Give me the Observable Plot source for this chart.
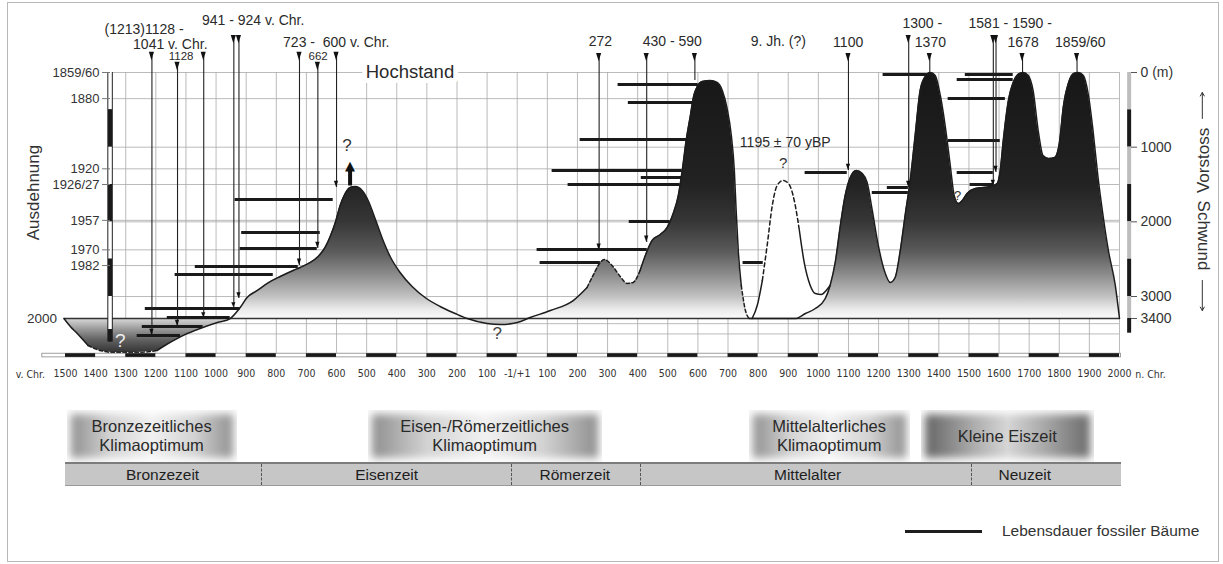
<!DOCTYPE html>
<html><head><meta charset="utf-8">
<script src="https://cdn.jsdelivr.net/npm/d3@7"></script>
<script src="https://cdn.jsdelivr.net/npm/@observablehq/plot@0.6"></script>
<style>
body{margin:0;background:#fff;font-family:'Liberation Sans',Arial,sans-serif;}
#wrap{position:relative;width:1223px;height:564px;overflow:hidden;background:#fff;}
#frame{position:absolute;left:7px;top:2px;width:1212px;height:560px;border:1px solid #b8b8b8;box-sizing:border-box;}
#chart{position:absolute;left:0;top:0;}
.box{position:absolute;top:410px;height:52px;display:flex;align-items:center;justify-content:center;text-align:center;white-space:pre-line;font-size:16.5px;line-height:19px;color:#2a2a2a;
background:linear-gradient(to right,#8a8a8a,#d2d2d2 25%,#f1f1f1 50%,#d2d2d2 75%,#8a8a8a);box-shadow:inset 0 0 8px 4px #fff;}
.ice{background:linear-gradient(to right,#5e5e5e,#ababab 30%,#d6d6d6 50%,#ababab 70%,#666);}
.period{position:absolute;top:462px;height:24px;background:#c6c6c6;border-top:2px solid #7c7c7c;border-bottom:1px solid #9a9a9a;box-sizing:border-box;}
.pname{position:absolute;top:463px;height:23px;line-height:23px;font-size:15.5px;color:#1e1e1e;transform:translateX(-50%);white-space:nowrap;}
.sep{position:absolute;top:464px;height:21px;border-left:1px dashed #555;}
#legline{position:absolute;left:905px;top:530px;width:77px;height:3px;background:#1e1e1e;}
#legtext{position:absolute;left:1002px;top:522px;font-size:15.5px;color:#333;white-space:nowrap;}
</style></head>
<body><div id="wrap"><div id="frame"></div><div id="chart"></div><div id="legline"></div><div id="legtext">Lebensdauer fossiler Bäume</div></div>
<script>
// ---------- data ----------
const xTickYears = [-1500,-1400,-1300,-1200,-1100,-1000,-900,-800,-700,-600,-500,-400,-300,-200,-100,0,100,200,300,400,500,600,700,800,900,1000,1100,1200,1300,1400,1500,1600,1700,1800,1900,2000];
const gridYears = [-1300,-1200,-1100,-1000,-900,-800,-700,-600,-500,-400,-300,-200,-100,0,100,200,300,400,500,600,700,800,900,1000,1100,1200,1300,1400,1500,1600,1700,1800,1900,2000];
const gridMeters = [0,350,1000,1290,1500,1980,2000,2375,2585,3000,3470,3610];

const leftTickMeters = [0,350,1290,1500,1980,2375,2585];
const leftTickLabels = ["1859/60","1880","1920","1926/27","1957","1970","1982"];
const rightTickMeters = [0,1000,2000,3000,3400];
const rightTickLabels = ["0 (m)","1000","2000","3000","3400"];

// glacier length curve (year, metres behind the 1859/60 maximum)
const glacierYear = [-1505,-1484,-1461,-1425,-1385,-1335,-1269,-1219,-1196,-1142,-1096,-1053,-996,-953,-920,-897,-863,-830,-787,-744,-721,-687,-661,-638,-621,-604,-588,-571,-555,-538,-515,-495,-472,-448,-422,-389,-349,-306,-256,-206,-166,-100,-56,0,43,110,186,232,252,276,289,315,342,365,385,408,432,448,475,498,518,535,548,561,575,585,598,614,641,664,681,697,711,721,727,734,744,757,770,923,957,990,1023,1039,1056,1073,1089,1106,1126,1146,1162,1179,1199,1219,1239,1255,1272,1289,1305,1322,1338,1355,1372,1388,1405,1421,1438,1451,1465,1478,1494,1521,1571,1594,1604,1614,1631,1647,1665,1680,1697,1713,1730,1746,1765,1785,1800,1814,1830,1848,1863,1880,1897,1912,1928,1943,1963,1986,2000];
const glacierLength = [3400,3509,3605,3768,3836,3864,3864,3850,3836,3700,3605,3536,3455,3400,3200,3018,2919,2825,2732,2651,2611,2544,2464,2343,2196,2009,1781,1620,1540,1527,1580,1714,1955,2223,2464,2678,2865,3018,3182,3309,3400,3468,3482,3455,3382,3255,3073,2879,2718,2544,2504,2584,2732,2825,2812,2651,2383,2249,2169,2075,1888,1647,1312,910,576,335,188,121,107,134,241,482,844,1312,1848,2383,2852,3236,3400,3400,3309,3218,3036,2852,2544,2049,1647,1406,1312,1352,1473,1848,2316,2651,2812,2745,2383,1888,1446,817,241,54,0,40,308,710,1245,1647,1754,1714,1620,1553,1527,1486,1312,910,375,134,20,0,40,241,777,1111,1152,1138,951,442,147,13,0,40,308,777,1379,1848,2383,2852,3400];
const glacierDashed = [[-1425,-1196],[215,405],[740,800]];

// uncertain peak "1195 ± 70 yBP"
const peakYear = [780,797,814,830,847,863,883,903,920,937,953,973,990,1010,1026,1039];
const peakLength = [3400,3164,2785,2316,1781,1513,1446,1500,1714,2116,2544,2852,2960,2973,2919,2852];
const peakDashed = [[822,930]];

// life spans of fossil trees
const treeFrom = [-937,-915,-920,-1069,-1136,-1235,-1162,-1245,-1262,335,369,209,116,412,169,372,66,76,750,1215,1488,1461,1431,1431,1461,1504,956,1229,1179];
const treeTo   = [-611,-654,-664,-727,-810,-920,-953,-1043,-1118,601,585,565,548,548,541,508,432,276,817,1362,1647,1647,1621,1604,1581,1581,1096,1299,1299];
const treeLevel= [1700,2142,2357,2598,2705,3218,3382,3509,3632,161,402,897,1312,1406,1500,1995,2370,2544,2544,27,27,94,348,910,1339,1500,1339,1540,1607];

// dated advances (arrows): year, marker position under the label, arrow end
const arrowYear = [-1213,-1128,-1041,-941,-924,-723,-662,-600,272,430,590,1100,1300,1370,1581,1590,1678,1859];
const arrowTop  = [-214,-80,-214,-440,-440,-214,-80,-214,-200,-200,-200,-200,-440,-200,-440,-440,-200,-200];
const arrowEnd  = [3632,3509,3382,3200,3036,2584,2357,1540,2383,2276,107,1312,1540,0,1527,1339,0,0];
const arrowHead = [1,1,1,1,1,1,1,1,1,1,0,1,1,0,1,1,0,0];

const labelText = ["(1213)1128 -","1041 v. Chr.","941 - 924 v. Chr.","723 -  600 v. Chr.","272","430 - 590","9. Jh. (?)","1100","1300 -","1370","1581 - 1590 -","1678","1859/60","1195 ± 70 yBP"];
const labelYear = [-1239,-1152,-877,-601,276,515,867,1099,1345,1372,1637,1680,1870,890];
const labelM    = [-570,-375,-690,-402,-415,-415,-415,-402,-650,-402,-650,-402,-402,937];
const smallText = ["1128","662"];
const smallYear = [-1116,-661];
const smallM    = [-215,-215];

const qYear = [-565,883,-1318,-66,1462];
const qM    = [977,1219,3700,3605,1647];
const qFill = ["#333","#333","#eeeeee","#444","#333"];
const qSize = [17,15,19,17,13];

const leftBarBreaks = [0,500,1000,1500,2000,2500,3000,3550,3720];
const rightBarBreaks = [0,500,1000,1500,2000,2500,3000,3400,3600];
const scaleBlackStart = [-1500,-1300,-1100,-900,-700,-500,-300,-100,100,300,500,700,900,1100,1300,1500,1700,1900];

const climateLabel = ["Bronzezeitliches\nKlimaoptimum","Eisen-/Römerzeitliches\nKlimaoptimum","Mittelalterliches\nKlimaoptimum","Kleine Eiszeit"];
const climateStart = [-1495,-495,770,1342];
const climateEnd   = [-930,282,1305,1916];
const periodName = ["Bronzezeit","Eisenzeit","Römerzeit","Mittelalter","Neuzeit"];
const periodBounds = [-1500,-850,-20,410,1510,2005];
const periodCenter = [-1176,-432,193,966,1687];

// the original drawing compresses the stretch between 3000 m and the 3400 m baseline
const yTransform = m => m <= 3000 ? m : m <= 3400 ? 3000 + (m - 3000) * 0.7365 : 3294.6 + (m - 3400) * 0.982;

// ---------- helpers ----------
function runs(xs, ys, dashedRanges) {
  const solid = [], dashed = [];
  let id = 0, prev = null;
  for (let i = 0; i < xs.length - 1; i++) {
    const mid = (xs[i] + xs[i+1]) / 2;
    const d = dashedRanges.some(([lo, hi]) => mid >= lo && mid <= hi);
    const tgt = d ? dashed : solid;
    if (d !== prev) { id++; prev = d; tgt.push({x: xs[i], m: ys[i], id}); }
    tgt.push({x: xs[i+1], m: ys[i+1], id});
  }
  return {solid, dashed};
}
const glacier = glacierYear.map((x, i) => ({x, m: glacierLength[i]}));
const peak = peakYear.map((x, i) => ({x, m: peakLength[i]}));
const gRuns = runs(glacierYear, glacierLength, glacierDashed);
const pRuns = runs(peakYear, peakLength, peakDashed);
const trees = treeFrom.map((a, i) => ({a, b: treeTo[i], m: treeLevel[i]}));
const arrows = arrowYear.map((x, i) => ({x, top: arrowTop[i], end: arrowEnd[i], head: arrowHead[i]}));
// small down-pointing wedges: one under each label, one at each arrow tip
const wedges = [];
arrows.forEach((a, i) => {
  const hw = 8.5, h = 56;
  wedges.push({id: "t" + i, x: a.x - hw, lo: a.top - h, hi: a.top - h},
              {id: "t" + i, x: a.x, lo: a.top - h, hi: a.top + h},
              {id: "t" + i, x: a.x + hw, lo: a.top - h, hi: a.top - h});
  if (a.head) {
    const b = a.end - 85;
    wedges.push({id: "b" + i, x: a.x - 7, lo: b, hi: b},
                {id: "b" + i, x: a.x, lo: b, hi: a.end},
                {id: "b" + i, x: a.x + 7, lo: b, hi: b});
  }
});
const labels = labelText.map((t, i) => ({t, x: labelYear[i], m: labelM[i]}));
const smalls = smallText.map((t, i) => ({t, x: smallYear[i], m: smallM[i]}));
const qs = qYear.map((x, i) => ({x, m: qM[i], f: qFill[i], s: qSize[i]}));
const barSegs = (xPos, breaks, light) => breaks.slice(0, -1).map((b, i) => ({x: xPos, y1: b, y2: breaks[i+1], c: i % 2 ? "#1a1a1a" : light}));
const leftBar = barSegs(-1352, leftBarBreaks, "#ffffff");
const rightBar = barSegs(2032, rightBarBreaks, "#bdbdbd");
const leftMap = new Map(leftTickMeters.map((m, i) => [yTransform(m), leftTickLabels[i]]));
const rightMap = new Map(rightTickMeters.map((m, i) => [yTransform(m), rightTickLabels[i]]));
const fmtYear = d => d < 0 ? String(-d) : d === 0 ? "-1/+1" : String(d);
const narrow = "'Liberation Sans Narrow','Arial Narrow','DejaVu Sans Condensed',sans-serif";
const ink = "#1c1c1c";

const chart = Plot.plot({
  width: 1223, height: 392,
  marginLeft: 110, marginRight: 93, marginTop: 0, marginBottom: 37,
  x: {domain: [-1500, 2000], range: [65, 1119]},
  y: {domain: [-1000, 4300], range: [-2.67, 393.1], transform: yTransform},
  style: {fontFamily: "'Liberation Sans', Arial, sans-serif", fontSize: "14px", color: "#333", background: "transparent", overflow: "visible"},
  marks: [
    Plot.ruleX(gridYears, {y1: 0, y2: 3875, stroke: "#a9a9a9", strokeWidth: 0.8}),
    Plot.ruleY(gridMeters, {x1: -1352, x2: 2000, stroke: "#a9a9a9", strokeWidth: 0.8}),
    Plot.areaY(peak, {x: "x", y1: 3400, y2: "m", fill: "white", curve: "monotone-x"}),
    Plot.areaY(glacier, {x: "x", y1: 3400, y2: "m", fill: "url(#glacierGrad)", curve: "monotone-x"}),
    Plot.ruleY([3400], {x1: -1505, x2: 2000, stroke: "#333", strokeWidth: 1.4}),
    Plot.line(gRuns.solid, {x: "x", y: "m", z: "id", stroke: ink, strokeWidth: 1.5, curve: "monotone-x"}),
    Plot.line(gRuns.dashed, {x: "x", y: "m", z: "id", stroke: ink, strokeWidth: 1.5, strokeDasharray: "3.5,2.5", curve: "monotone-x"}),
    Plot.line(pRuns.solid, {x: "x", y: "m", z: "id", stroke: ink, strokeWidth: 1.5, curve: "monotone-x"}),
    Plot.line(pRuns.dashed, {x: "x", y: "m", z: "id", stroke: ink, strokeWidth: 1.5, strokeDasharray: "4,3", curve: "monotone-x"}),
    Plot.ruleY(trees, {y: "m", x1: "a", x2: "b", stroke: "#1a1a1a", strokeWidth: 3}),
    Plot.ruleX(arrows, {x: "x", y1: "top", y2: "end", stroke: "#222", strokeWidth: 1.1}),
    Plot.areaY(wedges, {x: "x", y1: "lo", y2: "hi", z: "id", fill: "#111", curve: "linear"}),
    Plot.ruleX([-555], {y1: 1520, y2: 1290, stroke: "#111", strokeWidth: 4}),
    Plot.text([-555], {x: d => d, y: 1245, text: () => "▲", fontFamily: "DejaVu Sans", fontSize: 13, fill: "#111", lineAnchor: "middle"}),
    Plot.ruleX([-1352], {y1: 0, y2: 3720, stroke: "#222", strokeWidth: 5.5}),
    Plot.ruleX(leftBar, {x: "x", y1: "y1", y2: "y2", stroke: "c", strokeWidth: 3.5}),
    Plot.ruleX(rightBar, {x: "x", y1: "y1", y2: "y2", stroke: "c", strokeWidth: 4}),
    Plot.rect([0], {x1: -1577, x2: 2005, y1: 3880, y2: 3930, fill: "white", stroke: "#888", strokeWidth: 0.8}),
    Plot.rect(scaleBlackStart, {x1: d => d, x2: d => d + 100, y1: 3880, y2: 3930, fill: "#1a1a1a"}),
    Plot.text(labels, {x: "x", y: "m", text: "t", fontSize: 14, fill: "#2a2a2a", lineAnchor: "middle"}),
    Plot.text(smalls, {x: "x", y: "m", text: "t", fontSize: 11.5, fill: "#2a2a2a", lineAnchor: "middle"}),
    Plot.text(["Hochstand"], {x: -503, y: 0, text: d => d, textAnchor: "start", fontSize: 18.5, fill: "#2a2a2a", stroke: "white", strokeWidth: 10, paintOrder: "stroke", lineAnchor: "middle"}),
    Plot.text(qs, {x: "x", y: "m", text: () => "?", fill: "f", fontSize: "s", lineAnchor: "middle", fontWeight: 500}),
    Plot.text(["2000"], {x: -1528, y: 3400, text: d => d, textAnchor: "end", fontSize: 13.5, fill: "#333", lineAnchor: "middle"}),
    Plot.text(["Ausdehnung"], {x: -1607, y: 1607, text: d => d, rotate: -90, fontSize: 17, fill: "#333", lineAnchor: "middle"}),
    Plot.text(["Vorstoss"], {x: 2278, y: 1178, text: d => d, rotate: -90, fontSize: 17, fill: "#333", lineAnchor: "middle"}),
    Plot.text(["Schwund"], {x: 2278, y: 2183, text: d => d, rotate: 90, fontSize: 17, fill: "#333", lineAnchor: "middle"}),
    Plot.arrow([0], {x1: 2275, x2: 2275, y1: 616, y2: 268, stroke: "#333", strokeWidth: 1, headLength: 6}),
    Plot.arrow([0], {x1: 2275, x2: 2275, y1: 2785, y2: 3255, stroke: "#333", strokeWidth: 1, headLength: 6}),
    Plot.text(["v. Chr."], {x: -1568, y: 4164, text: d => d, textAnchor: "end", fontSize: 10.5, fontFamily: narrow, fill: "#333", lineAnchor: "middle"}),
    Plot.text(["n. Chr."], {x: 2052, y: 4164, text: d => d, textAnchor: "start", fontSize: 10.5, fontFamily: narrow, fill: "#333", lineAnchor: "middle"}),
    Plot.axisY(leftTickMeters, {anchor: "left", tickSize: 8, tickPadding: 3, fontSize: 13, label: null, tickFormat: d => leftMap.get(d) ?? leftMap.get(yTransform(d)), stroke: "#777"}),
    Plot.axisY(rightTickMeters, {anchor: "right", tickSize: 6, tickPadding: 4, fontSize: 14, label: null, tickFormat: d => rightMap.get(d) ?? rightMap.get(yTransform(d)), stroke: "#555"}),
    Plot.axisX(xTickYears, {anchor: "bottom", tickSize: 0, tickPadding: 14, fontSize: 10.5, fontFamily: narrow, label: null, tickFormat: fmtYear})
  ]
});
document.getElementById("chart").append(chart);

// vertical grey gradient for the glacier body, positioned with the y scale
const Y = chart.scale("y");
const py = m => Math.abs(Y.apply(3400) - 318) < 1 ? Y.apply(m) : Y.apply(yTransform(m));
const gradStops = [[0,"#171717"],[1500,"#222"],[2000,"#363636"],[2400,"#5a5a5a"],[2700,"#8a8a8a"],[3000,"#c0c0c0"],[3250,"#ececec"],[3400,"#fafafa"],[3420,"#d2d2d2"],[3550,"#9a9a9a"],[3700,"#606060"],[3860,"#363636"]];
const g0 = py(0), g1 = py(3900);
const lg = d3.select(chart).insert("defs", ":first-child").append("linearGradient")
  .attr("id", "glacierGrad").attr("gradientUnits", "userSpaceOnUse")
  .attr("x1", 0).attr("x2", 0).attr("y1", g0).attr("y2", g1);
gradStops.forEach(([m, c]) => lg.append("stop").attr("offset", (py(m) - g0) / (g1 - g0)).attr("stop-color", c));

// lower panel on the same x scale
const X = chart.scale("x");
const wrap = document.getElementById("wrap");
climateLabel.forEach((t, i) => {
  const d = document.createElement("div");
  d.className = "box" + (i === 3 ? " ice" : "");
  const l = X.apply(climateStart[i]), r = X.apply(climateEnd[i]);
  d.style.left = l + "px"; d.style.width = (r - l) + "px";
  d.textContent = t;
  wrap.append(d);
});
const bar = document.createElement("div");
bar.className = "period";
bar.style.left = X.apply(periodBounds[0]) + "px";
bar.style.width = (X.apply(periodBounds[periodBounds.length - 1]) - X.apply(periodBounds[0])) + "px";
wrap.append(bar);
periodBounds.slice(1, -1).forEach(b => {
  const s = document.createElement("div");
  s.className = "sep"; s.style.left = X.apply(b) + "px";
  wrap.append(s);
});
periodName.forEach((t, i) => {
  const s = document.createElement("div");
  s.className = "pname"; s.style.left = X.apply(periodCenter[i]) + "px";
  s.textContent = t;
  wrap.append(s);
});
</script></body></html>
